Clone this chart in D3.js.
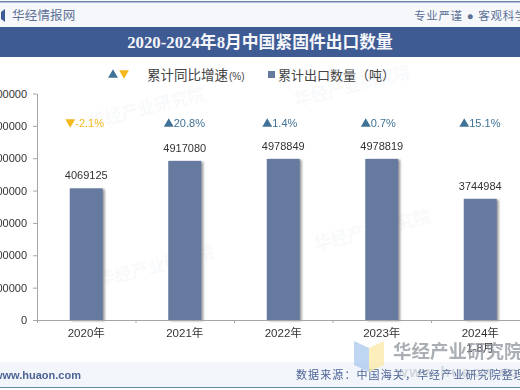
<!DOCTYPE html>
<html>
<head>
<meta charset="utf-8">
<script src="https://cdn.jsdelivr.net/npm/d3@7"></script>
<style>
  html, body { margin: 0; padding: 0; background: #fff; overflow: hidden; }
  svg { display: block; }
  text { font-family: "Liberation Sans", "Noto Sans CJK SC", sans-serif; }
</style>
</head>
<body>
<svg id="chart" width="520" height="390"></svg>
<script>
const categories = ["2020年", "2021年", "2022年", "2023年", "2024年"];
const subLabels = ["", "", "", "", "1-8月"];
const exportQty = [4069125, 4917080, 4978849, 4978819, 3744984];
const growth = [-2.1, 20.8, 1.4, 0.7, 15.1];
const yTicks = [0, 1000000, 2000000, 3000000, 4000000, 5000000, 6000000, 7000000];

const UP = "#3f7296", DOWN = "#f5b81c", BAR = "#66799f", AXIS = "#a6a6a6";

const svg = d3.select("#chart");

// bar shadow
svg.append("defs").append("filter")
    .attr("id", "shadow")
    .attr("x", "-20%").attr("width", "150%")
    .append("feDropShadow")
    .attr("dx", 2).attr("dy", 1)
    .attr("stdDeviation", 1.3)
    .attr("flood-color", "#555")
    .attr("flood-opacity", 0.6);

// header and footer bands
svg.append("rect").attr("width", 520).attr("height", 27).attr("fill", "#f5f7fa");
svg.append("rect").attr("y", 1).attr("width", 520).attr("height", 1.5).attr("fill", "#6f84a8");
svg.append("rect").attr("y", 27).attr("width", 520).attr("height", 30).attr("fill", "#3f5b94");
svg.append("rect").attr("y", 362).attr("width", 520).attr("height", 26).attr("fill", "#f2f5fa");
svg.append("rect").attr("y", 387).attr("width", 520).attr("height", 1).attr("fill", "#5d8a9c");

svg.append("path").attr("d", "M5,9V22L1,19V12Z").attr("fill", "#3f5b94");
svg.append("text").attr("x", 12).attr("y", 20).attr("font-size", 12.5).attr("letter-spacing", 0.2)
    .attr("fill", "#5d7196").text("华经情报网");
svg.append("text").attr("x", 414).attr("y", 20).attr("font-size", 11.5).attr("letter-spacing", 0.7)
    .attr("fill", "#5d7196").text("专业严谨 ● 客观科学");

svg.append("text").attr("x", 260).attr("y", 48).attr("text-anchor", "middle")
    .attr("font-size", 16.8).attr("font-weight", "bold").attr("fill", "#f4f6fa")
    .style("font-family", '"Liberation Serif", "Noto Sans CJK SC", serif')
    .text("2020-2024年8月中国紧固件出口数量");

// legend
svg.append("path").attr("d", d3.symbol(d3.symbolTriangle, 42)).attr("transform", "translate(113,75)").attr("fill", UP);
svg.append("path").attr("d", d3.symbol(d3.symbolTriangle, 42)).attr("transform", "translate(124,73) rotate(180)").attr("fill", DOWN);
svg.append("text").attr("x", 147).attr("y", 80).attr("font-size", 13.5).attr("fill", "#444").text("累计同比增速");
svg.append("text").attr("x", 229).attr("y", 80).attr("font-size", 10).attr("fill", "#444").text("(%)");
svg.append("rect").attr("x", 268).attr("y", 71).attr("width", 7).attr("height", 7).attr("fill", BAR);
svg.append("text").attr("x", 278).attr("y", 80).attr("font-size", 13).attr("fill", "#444").text("累计出口数量（吨）");

// faint watermarks behind the plot
const wm = svg.append("g").attr("font-weight", "bold").attr("fill", "#6f84a8").attr("opacity", 0.05).attr("font-size", 17);
wm.append("text").attr("transform", "translate(90,128) rotate(-14)").text("华经产业研究院");
wm.append("text").attr("transform", "translate(296,106) rotate(-14)").text("华经产业研究院");
wm.append("text").attr("transform", "translate(100,286) rotate(-14)").text("华经产业研究院");
wm.append("text").attr("transform", "translate(316,250) rotate(-14)").text("华经产业研究院");

// scales
const y = d3.scaleLinear().domain([0, 7000000]).range([320, 93.5]);
const x = d3.scaleBand().domain(categories).range([37, 529.5]).paddingInner(0.665).paddingOuter(0.3325);
const edges = d3.scaleLinear().domain([0, categories.length]).range([37, 529.5]);

// bars
svg.selectAll("rect.bar")
    .data(exportQty)
    .enter()
    .append("rect")
    .attr("class", "bar")
    .attr("x", (d, i) => x(categories[i]))
    .attr("y", d => y(d))
    .attr("width", x.bandwidth())
    .attr("height", d => y(0) - y(d))
    .attr("fill", BAR)
    .attr("filter", "url(#shadow)");

svg.selectAll("text.qty")
    .data(exportQty)
    .enter()
    .append("text")
    .attr("class", "qty")
    .attr("x", (d, i) => x(categories[i]) + x.bandwidth() / 2)
    .attr("y", d => y(d) - 9)
    .attr("text-anchor", "middle")
    .attr("font-size", 11)
    .attr("fill", "#333")
    .text(d => d);

// growth labels in a row above the bars
const growthRow = svg.selectAll("g.growth")
    .data(growth)
    .enter()
    .append("g")
    .attr("class", "growth")
    .attr("transform", (d, i) => `translate(${x(categories[i]) + x.bandwidth() / 2},123)`);

growthRow.append("path")
    .attr("d", d3.symbol(d3.symbolTriangle, 42))
    .attr("transform", d => d < 0 ? "translate(-16,-1) rotate(180)" : "translate(-16,1)")
    .attr("fill", d => d < 0 ? DOWN : UP);

growthRow.append("text")
    .attr("x", -11)
    .attr("y", 4)
    .attr("font-size", 11)
    .attr("fill", d => d < 0 ? DOWN : UP)
    .text(d => d + "%");

// axes
const yAxis = svg.append("g")
    .attr("transform", "translate(37,0)")
    .call(d3.axisLeft(y).tickValues(yTicks).tickFormat(d3.format("d")).tickSizeOuter(0).tickSizeInner(4).tickPadding(6));
yAxis.selectAll("text").attr("font-size", 11).attr("fill", "#333");

const edgeAxis = svg.append("g")
    .attr("transform", "translate(0,320)")
    .call(d3.axisBottom(edges).tickValues(d3.range(categories.length + 1)).tickFormat("").tickSizeOuter(0).tickSizeInner(3));

const xAxis = svg.append("g")
    .attr("transform", "translate(0,320)")
    .call(d3.axisBottom(x).tickSize(0).tickPadding(9));
xAxis.select(".domain").remove();
xAxis.selectAll("text").attr("font-size", 11.5).attr("fill", "#333").style("font-family", '"Liberation Sans", "Noto Sans CJK SC", sans-serif');
xAxis.selectAll(".tick").append("text")
    .attr("y", 24)
    .attr("dy", "0.71em")
    .attr("font-size", 11.5)
    .attr("fill", "#333")
    .text((d, i) => subLabels[i]);

[yAxis, edgeAxis].forEach(a => {
    a.selectAll(".domain, line").attr("stroke", AXIS);
});

// footer text
svg.append("text").attr("x", -6).attr("y", 379).attr("font-size", 11).attr("font-weight", "bold").attr("fill", "#4d6496").text("www.huaon.com");
svg.append("text").attr("x", 296).attr("y", 379).attr("font-size", 11).attr("letter-spacing", 1.1).attr("fill", "#4d6496").text("数据来源：中国海关，华经产业研究院整理");

// logo watermark, bottom right
svg.append("path").attr("d", "M354,341L369,348V372L354,365Z").attr("fill", "#a9c8ee").attr("opacity", 0.75);
svg.append("path").attr("d", "M369,348L384,341V365L369,372Z").attr("fill", "#fbe9a5").attr("opacity", 0.75);
svg.append("text").attr("x", 393).attr("y", 358).attr("font-size", 18.5).attr("font-weight", "bold").attr("fill", "#8d949c").attr("opacity", 0.75).text("华经产业研究院");
svg.append("text").attr("x", 396).attr("y", 377).attr("font-size", 15).attr("font-weight", "bold").attr("letter-spacing", 1.5).attr("fill", "#8d949c").attr("opacity", 0.3).text("www.huaon.com");
</script>
</body>
</html>
